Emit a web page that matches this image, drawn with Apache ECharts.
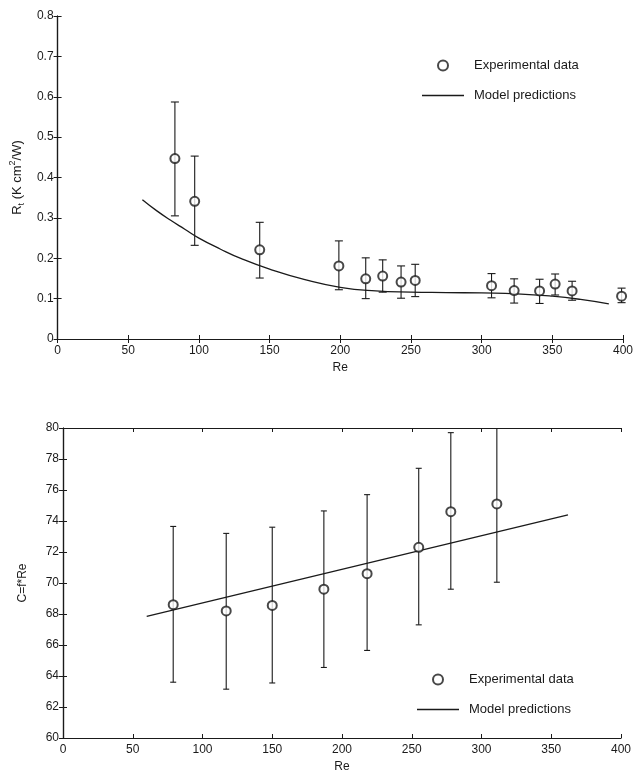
<!DOCTYPE html>
<html>
<head>
<meta charset="utf-8">
<script src="https://cdn.jsdelivr.net/npm/echarts@6/dist/echarts.min.js"></script>
<style>
html,body{margin:0;padding:0;background:#fff;}
#chart{width:636px;height:774px;}
</style>
</head>
<body>
<div id="chart"></div>
<script>
// ---------- Top panel: thermal resistance vs Re ----------
const topRe   = [83, 97, 143, 199, 218, 230, 243, 253, 307, 323, 341, 352, 364, 399];
const topMean = [0.447, 0.341, 0.221, 0.181, 0.149, 0.156, 0.141, 0.145, 0.132, 0.120, 0.119, 0.136, 0.119, 0.106];
const topHi   = [0.587, 0.453, 0.289, 0.243, 0.201, 0.196, 0.181, 0.185, 0.162, 0.149, 0.148, 0.161, 0.143, 0.126];
const topLo   = [0.305, 0.232, 0.151, 0.122, 0.100, 0.116, 0.101, 0.105, 0.102, 0.089, 0.088, 0.109, 0.096, 0.090];
const topModelRe  = [60, 70, 80, 90, 100, 115, 130, 150, 175, 200, 225, 250, 275, 300, 325, 350, 370, 390];
const topModelVal = [0.345, 0.318, 0.294, 0.272, 0.250, 0.223, 0.199, 0.173, 0.147, 0.128, 0.119, 0.116, 0.115, 0.114, 0.112, 0.106, 0.098, 0.087];

// ---------- Bottom panel: C = f*Re vs Re ----------
const botRe   = [79, 117, 150, 187, 218, 255, 278, 311];
const botMean = [68.6, 68.2, 68.55, 69.6, 70.6, 72.3, 74.6, 75.1];
const botHi   = [73.65, 73.2, 73.6, 74.65, 75.7, 77.4, 79.7, 80.3];
const botLo   = [63.6, 63.15, 63.55, 64.55, 65.65, 67.3, 69.6, 70.05];
const botModelRe  = [60, 362];
const botModelVal = [67.85, 74.4];

const xTicks = {min: 0, max: 400, interval: 50};
const topY = {min: 0, max: 0.8, interval: 0.1};
const botY = {min: 60, max: 80, interval: 2};

const FONT = 'Liberation Sans, Arial, Helvetica, sans-serif';
const INK = '#1a1a1a';

const zip = (a, b) => a.map((v, i) => [v, b[i]]);
const errRows = (x, lo, hi) => x.map((v, i) => [v, lo[i], hi[i]]);

function errRender(capHalf) {
  return function (params, api) {
    const cs = params.coordSys;
    const x = api.value(0);
    const pHi = api.coord([x, api.value(2)]);
    const pLo = api.coord([x, api.value(1)]);
    const top = Math.max(pHi[1], cs.y);
    const bot = Math.min(pLo[1], cs.y + cs.height);
    const st = {stroke: INK, lineWidth: 1.1};
    const kids = [
      {type: 'line', shape: {x1: pHi[0], y1: top, x2: pLo[0], y2: bot}, style: st},
      {type: 'line', shape: {x1: pLo[0] - capHalf, y1: bot, x2: pLo[0] + capHalf, y2: bot}, style: st}
    ];
    if (pHi[1] >= cs.y) {
      kids.push({type: 'line', shape: {x1: pHi[0] - capHalf, y1: top, x2: pHi[0] + capHalf, y2: top}, style: st});
    }
    return {type: 'group', children: kids};
  };
}

const axLine = {show: true, lineStyle: {color: INK, width: 1.2}};
const tickIn = {show: true, inside: true, length: 4, lineStyle: {color: INK, width: 1}};
const lbl = {color: INK, fontFamily: FONT, fontSize: 12};

function xAxes(gi) {
  return [
    Object.assign({type: 'value', gridIndex: gi, position: 'bottom', axisLine: axLine, axisTick: tickIn,
      axisLabel: Object.assign({margin: 6}, lbl), splitLine: {show: false},
      name: 'Re', nameLocation: 'middle', nameGap: 23,
      nameTextStyle: {color: INK, fontFamily: FONT, fontSize: 12}}, xTicks),
    Object.assign({type: 'value', gridIndex: gi, position: 'top', axisLine: axLine, axisTick: tickIn,
      axisLabel: {show: false}, splitLine: {show: false}}, xTicks)
  ];
}
function yAxes(gi, range, name, gap, pad) {
  return [
    Object.assign({type: 'value', gridIndex: gi, position: 'left', axisLine: axLine, axisTick: tickIn,
      axisLabel: Object.assign({margin: 4}, lbl), splitLine: {show: false},
      name: name, nameLocation: 'middle', nameGap: gap, nameRotate: 90,
      nameTextStyle: {color: INK, fontFamily: FONT, fontSize: 12, padding: pad,
        rich: {
          b: {fontFamily: FONT, fontSize: 13, color: INK, lineHeight: 18, verticalAlign: 'middle'},
          sub: {fontFamily: FONT, fontSize: 9, color: INK, lineHeight: 18, verticalAlign: 'bottom', padding: [6, 0, 0, 0]},
          sup: {fontFamily: FONT, fontSize: 9, color: INK, lineHeight: 18, verticalAlign: 'top', padding: [0, 0, 6, 0]}
        }}}, range),
    Object.assign({type: 'value', gridIndex: gi, position: 'right', axisLine: axLine, axisTick: tickIn,
      axisLabel: {show: false}, splitLine: {show: false}}, range)
  ];
}

const lineIcon = 'path://M0,0 H42 V1.3 H0 Z';
const legendBase = {
  orient: 'vertical', itemWidth: 42, itemHeight: 10, itemGap: 17, selectedMode: false,
  textStyle: {color: INK, fontFamily: FONT, fontSize: 13, padding: [0, 0, 0, 5]},
  data: [
    {name: 'Experimental data', icon: 'emptyCircle'},
    {name: 'Model predictions', icon: lineIcon, itemStyle: {color: INK, borderWidth: 0}}
  ]
};

const option = {
  backgroundColor: '#fff',
  animation: false,
  grid: [
    {left: 55, right: 8, top: 16, height: 323},
    {left: 63, right: 15, top: 428, height: 313}
  ],
  legend: [
    Object.assign({left: 417, top: 54}, legendBase),
    Object.assign({left: 412, top: 668}, legendBase)
  ],
  xAxis: xAxes(0).concat(xAxes(1)),
  yAxis: yAxes(0, topY, '{b|R}{sub|t}{b| (K cm}{sup|2}{b|/W)}', 28, [0, 0, 0, 0])
    .concat(yAxes(1, botY, 'C=f*Re', 34, [0, 0, 0, 0])),
  series: [
    {type: 'custom', name: 'err1', xAxisIndex: 0, yAxisIndex: 0, data: errRows(topRe, topLo, topHi),
      renderItem: errRender(4), silent: true, z: 2},
    {type: 'scatter', name: 'Experimental data', xAxisIndex: 0, yAxisIndex: 0, data: zip(topRe, topMean),
      symbol: 'emptyCircle', symbolSize: 9, itemStyle: {color: INK, borderColor: INK, borderWidth: 1.1}, z: 3},
    {type: 'line', name: 'Model predictions', xAxisIndex: 0, yAxisIndex: 0, data: zip(topModelRe, topModelVal),
      smooth: true, symbol: 'none', showSymbol: false, lineStyle: {color: INK, width: 1.3}, itemStyle: {color: INK}, z: 2},

    {type: 'custom', name: 'err2', xAxisIndex: 2, yAxisIndex: 2, data: errRows(botRe, botLo, botHi),
      renderItem: errRender(3), silent: true, z: 2},
    {type: 'scatter', name: 'Experimental data', xAxisIndex: 2, yAxisIndex: 2, data: zip(botRe, botMean),
      symbol: 'emptyCircle', symbolSize: 9, itemStyle: {color: INK, borderColor: INK, borderWidth: 1.1}, z: 3},
    {type: 'line', name: 'Model predictions', xAxisIndex: 2, yAxisIndex: 2, data: zip(botModelRe, botModelVal),
      symbol: 'none', showSymbol: false, lineStyle: {color: INK, width: 1.3}, itemStyle: {color: INK}, z: 2}
  ]
};

const chart = echarts.init(document.getElementById('chart'), null, {renderer: 'canvas'});
chart.setOption(option);
</script>
</body>
</html>
